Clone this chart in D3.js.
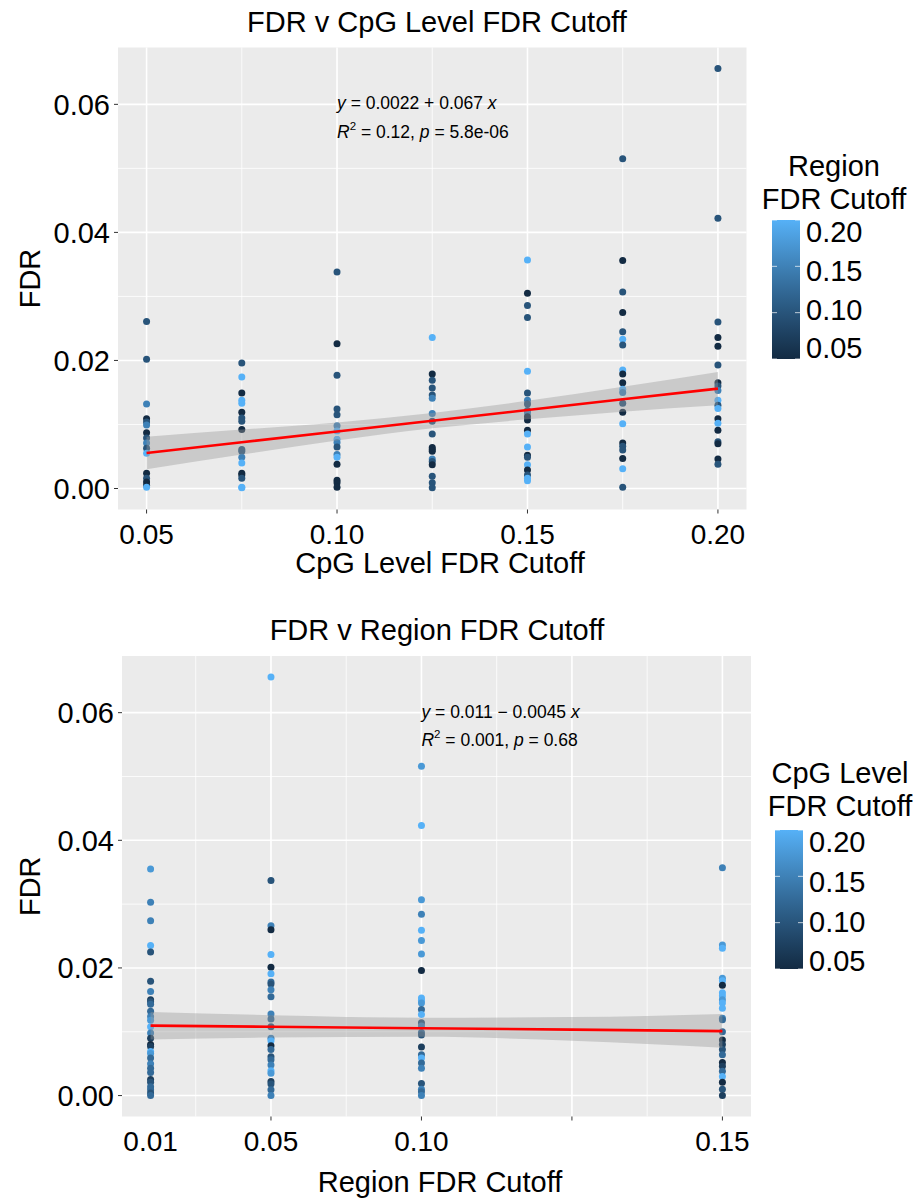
<!DOCTYPE html>
<html lang="en">
<head>
<meta charset="utf-8">
<title>FDR v cutoffs</title>
<style>
  body { margin: 0; background: #fff; }
  svg text { font-family: "Liberation Sans", Arial, sans-serif; fill: #000; }
</style>
</head>
<body>
<svg id="chart" width="920" height="1199"></svg>
<script src="https://d3js.org/d3.v7.min.js"></script>
<script>
// ---- data: [FDR, colour value] per x column ----
var cpgCutoffs = [0.05, 0.075, 0.10, 0.125, 0.15, 0.175, 0.20];
// top panel points, colour = region FDR cutoff
var top005 = [[0.0261,0.10],[0.0202,0.10],[0.0132,0.15],[0.0109,0.05],[0.0104,0.10],[0.0099,0.15],[0.0087,0.05],[0.0079,0.10],[0.0071,0.15],[0.0063,0.10],[0.0055,0.20],[0.0024,0.05],[0.0016,0.10],[0.0010,0.05],[0.0005,0.05],[0.0002,0.20]];
var top0075 = [[0.0196,0.10],[0.0174,0.20],[0.0149,0.05],[0.0138,0.20],[0.0133,0.20],[0.0119,0.05],[0.0110,0.10],[0.0105,0.10],[0.0092,0.05],[0.0061,0.10],[0.0058,0.10],[0.0049,0.15],[0.0040,0.20],[0.0024,0.05],[0.0021,0.05],[0.0016,0.10],[0.0002,0.20],[0.0001,0.20]];
var top010 = [[0.0338,0.10],[0.0226,0.05],[0.0177,0.10],[0.0124,0.10],[0.0115,0.10],[0.0098,0.15],[0.0090,0.20],[0.0077,0.20],[0.0072,0.15],[0.0065,0.10],[0.0053,0.15],[0.0049,0.20],[0.0038,0.05],[0.0013,0.05],[0.0009,0.05],[0.0002,0.05]];
var top0125 = [[0.0236,0.20],[0.0179,0.05],[0.0169,0.10],[0.0157,0.10],[0.0146,0.10],[0.0141,0.15],[0.0117,0.15],[0.0105,0.10],[0.0085,0.10],[0.0064,0.05],[0.0061,0.05],[0.0058,0.05],[0.0046,0.15],[0.0042,0.10],[0.0037,0.05],[0.0019,0.10],[0.0009,0.10],[0.0001,0.10]];
var top015 = [[0.0357,0.20],[0.0305,0.05],[0.0286,0.10],[0.0267,0.10],[0.0183,0.20],[0.0149,0.10],[0.0138,0.15],[0.0132,0.10],[0.0122,0.10],[0.0118,0.15],[0.0112,0.05],[0.0107,0.05],[0.0091,0.05],[0.0085,0.20],[0.0065,0.20],[0.0052,0.05],[0.0049,0.10],[0.0037,0.20],[0.0029,0.05],[0.0021,0.10],[0.0016,0.20],[0.0012,0.20]];
var top0175 = [[0.0515,0.10],[0.0356,0.05],[0.0307,0.10],[0.0275,0.05],[0.0245,0.10],[0.0233,0.20],[0.0224,0.10],[0.0185,0.20],[0.0179,0.05],[0.0165,0.05],[0.0155,0.20],[0.0150,0.15],[0.0133,0.10],[0.0119,0.05],[0.0101,0.20],[0.0071,0.05],[0.0066,0.10],[0.0060,0.10],[0.0047,0.05],[0.0031,0.20],[0.0002,0.10]];
var top020 = [[0.0656,0.10],[0.0422,0.10],[0.0260,0.10],[0.0236,0.05],[0.0222,0.05],[0.0193,0.10],[0.0165,0.05],[0.0160,0.10],[0.0153,0.15],[0.0138,0.20],[0.0130,0.10],[0.0125,0.20],[0.0109,0.05],[0.0102,0.20],[0.0091,0.05],[0.0073,0.10],[0.0070,0.05],[0.0046,0.05],[0.0038,0.10]];
var topColumns = [top005, top0075, top010, top0125, top015, top0175, top020];

// bottom panel points, colour = CpG level FDR cutoff
var regionCutoffs = [0.01, 0.05, 0.10, 0.20];
var bot001 = [[0.0355,0.175],[0.0303,0.15],[0.0274,0.15],[0.0235,0.20],[0.0225,0.10],[0.0179,0.10],[0.0163,0.15],[0.0150,0.075],[0.0147,0.10],[0.0143,0.125],[0.0132,0.125],[0.0124,0.15],[0.0118,0.175],[0.0108,0.20],[0.0098,0.15],[0.0090,0.075],[0.0080,0.05],[0.0077,0.075],[0.0069,0.20],[0.0066,0.175],[0.0059,0.125],[0.0050,0.15],[0.0043,0.125],[0.0036,0.125],[0.0025,0.075],[0.0021,0.10],[0.0014,0.125],[0.0009,0.125],[0.0004,0.10],[0.0000,0.125]];
var bot005 = [[0.0656,0.20],[0.0337,0.10],[0.0266,0.15],[0.0260,0.05],[0.0221,0.20],[0.0201,0.05],[0.0191,0.20],[0.0178,0.125],[0.0175,0.10],[0.0166,0.15],[0.0155,0.125],[0.0128,0.15],[0.0120,0.125],[0.0108,0.10],[0.0090,0.15],[0.0086,0.20],[0.0078,0.05],[0.0072,0.125],[0.0061,0.10],[0.0056,0.125],[0.0048,0.15],[0.0039,0.20],[0.0035,0.175],[0.0022,0.075],[0.0018,0.10],[0.0009,0.125],[0.0000,0.15]];
var bot010 = [[0.0516,0.175],[0.0423,0.20],[0.0307,0.175],[0.0284,0.15],[0.0259,0.20],[0.0243,0.175],[0.0222,0.175],[0.0196,0.05],[0.0153,0.20],[0.0149,0.20],[0.0145,0.175],[0.0135,0.125],[0.0127,0.20],[0.0114,0.10],[0.0109,0.15],[0.0099,0.125],[0.0095,0.10],[0.0076,0.075],[0.0064,0.125],[0.0059,0.20],[0.0051,0.125],[0.0043,0.15],[0.0019,0.10],[0.0010,0.15],[0.0006,0.125],[0.0000,0.15]];
var bot020 = [[0.0357,0.15],[0.0236,0.175],[0.0231,0.20],[0.0184,0.175],[0.0180,0.20],[0.0173,0.05],[0.0161,0.20],[0.0156,0.20],[0.0150,0.175],[0.0145,0.20],[0.0137,0.20],[0.0121,0.15],[0.0119,0.125],[0.0100,0.125],[0.0087,0.05],[0.0080,0.075],[0.0072,0.10],[0.0064,0.125],[0.0052,0.05],[0.0046,0.075],[0.0038,0.125],[0.0030,0.20],[0.0021,0.05],[0.0010,0.10],[0.0000,0.075]];
var botColumns = [bot001, bot005, bot010, bot020];

// fitted lines and confidence bands (x, fit, lower, upper)
var topFit = [[0.05,0.00555,0.0030,0.0081],[0.075,0.00723,0.0053,0.0092],[0.10,0.0089,0.0075,0.0103],[0.125,0.01058,0.0094,0.0118],[0.15,0.01225,0.0108,0.0137],[0.175,0.01393,0.0120,0.0159],[0.20,0.0156,0.0130,0.0182]];
var botFit = [[0.01,0.01096,0.0088,0.0131],[0.05,0.01078,0.0091,0.0126],[0.10,0.01055,0.0092,0.0122],[0.15,0.01033,0.0086,0.0123],[0.20,0.0101,0.0075,0.0128]];

// axis ticks
var yTicks = [0, 0.02, 0.04, 0.06];
var yMinor = [0.01, 0.03, 0.05];
var topXTicks = [0.05, 0.10, 0.15, 0.20];
var topXLabels = ["0.05", "0.10", "0.15", "0.20"];
var topXMinor = [0.075, 0.125, 0.175];
var botXTicks = [0.05, 0.10, 0.15, 0.20];
var botXMinor = [0.025, 0.075, 0.125, 0.175];
var botXLabelPos = [0.01, 0.05, 0.10, 0.20];
var botXLabels = ["0.01", "0.05", "0.10", "0.15"];
var legendTicks = [0.05, 0.10, 0.15, 0.20];

var svg = d3.select("#chart");
var colorScale = d3.scaleLinear().domain([0.05, 0.20])
    .range(["#132B43", "#56B1F7"]).interpolate(d3.interpolateLab);

function drawPanel(o) {
    var x = d3.scaleLinear().domain(o.xDomain).range([o.left, o.right]);
    var y = d3.scaleLinear().domain([-0.00328, 0.06888]).range([o.bottom, o.top]);
    var g = svg.append("g");

    g.append("rect").attr("x", o.left).attr("y", o.top)
        .attr("width", o.right - o.left).attr("height", o.bottom - o.top)
        .attr("fill", "#EBEBEB");

    // minor grid
    g.selectAll(".ymin").data(yMinor).enter().append("line")
        .attr("x1", o.left).attr("x2", o.right)
        .attr("y1", d => y(d)).attr("y2", d => y(d))
        .attr("stroke", "#fff").attr("stroke-width", 0.8);
    g.selectAll(".xmin").data(o.xMinor).enter().append("line")
        .attr("y1", o.top).attr("y2", o.bottom)
        .attr("x1", d => x(d)).attr("x2", d => x(d))
        .attr("stroke", "#fff").attr("stroke-width", 0.8);
    // major grid
    g.selectAll(".ymaj").data(yTicks).enter().append("line")
        .attr("x1", o.left).attr("x2", o.right)
        .attr("y1", d => y(d)).attr("y2", d => y(d))
        .attr("stroke", "#fff").attr("stroke-width", 1.6);
    g.selectAll(".xmaj").data(o.xTicks).enter().append("line")
        .attr("y1", o.top).attr("y2", o.bottom)
        .attr("x1", d => x(d)).attr("x2", d => x(d))
        .attr("stroke", "#fff").attr("stroke-width", 1.6);

    // points
    o.columns.forEach(function(col, i) {
        g.append("g").selectAll("circle").data(col).enter().append("circle")
            .attr("cx", x(o.xValues[i]))
            .attr("cy", d => y(d[0]))
            .attr("r", 3.5)
            .attr("fill", d => colorScale(d[1]));
    });

    // confidence band + fit
    g.append("path").datum(o.fit)
        .attr("d", d3.area().x(d => x(d[0])).y0(d => y(d[2])).y1(d => y(d[3])).curve(d3.curveMonotoneX))
        .attr("fill", "#999999").attr("fill-opacity", 0.4);
    g.append("path").datum(o.fit)
        .attr("d", d3.line().x(d => x(d[0])).y(d => y(d[1])))
        .attr("fill", "none").attr("stroke", "#FF0000").attr("stroke-width", 2.6);

    // axes ticks
    g.selectAll(".yt").data(yTicks).enter().append("line")
        .attr("x1", o.left - 4).attr("x2", o.left)
        .attr("y1", d => y(d)).attr("y2", d => y(d))
        .attr("stroke", "#333").attr("stroke-width", 1);
    g.selectAll(".ytl").data(yTicks).enter().append("text")
        .attr("x", o.left - 8).attr("y", d => y(d))
        .attr("dy", "0.36em").attr("text-anchor", "end")
        .attr("font-size", 29).text(d => d3.format(".2f")(d));
    g.selectAll(".xt").data(o.xTicks).enter().append("line")
        .attr("y1", o.bottom).attr("y2", o.bottom + 4)
        .attr("x1", d => x(d)).attr("x2", d => x(d))
        .attr("stroke", "#333").attr("stroke-width", 1);
    g.selectAll(".xtl").data(o.xLabelPos).enter().append("text")
        .attr("x", d => x(d)).attr("y", o.bottom + 34)
        .attr("text-anchor", "middle").attr("font-size", 28)
        .text((d, i) => o.xLabels[i]);

    // titles
    g.append("text").attr("x", 437).attr("y", o.top - 16)
        .attr("text-anchor", "middle").attr("font-size", 29).text(o.title);
    g.append("text").attr("x", 440).attr("y", o.bottom + o.xTitleDy)
        .attr("text-anchor", "middle").attr("font-size", 29).text(o.xTitle);
    g.append("text")
        .attr("transform", "translate(40," + ((o.top + o.bottom) / 2) + ") rotate(-90)")
        .attr("text-anchor", "middle").attr("font-size", 29).text("FDR");

    // regression label
    var lx = x(0.10), ly = y(0.06) + 5;
    var t1 = g.append("text").attr("x", lx).attr("y", ly).attr("font-size", 17.5);
    t1.append("tspan").attr("font-style", "italic").text("y");
    t1.append("tspan").text(" = " + o.eq[0] + " " + o.eq[1] + " " + o.eq[2] + " ");
    t1.append("tspan").attr("font-style", "italic").text("x");
    var t2 = g.append("text").attr("x", lx).attr("y", ly + 28.5).attr("font-size", 17.5);
    t2.append("tspan").attr("font-style", "italic").text("R");
    t2.append("tspan").attr("font-size", 11.5).attr("dy", -8).text("2");
    t2.append("tspan").attr("dy", 8).text(" = " + o.r2 + ", ");
    t2.append("tspan").attr("font-style", "italic").text("p");
    t2.append("tspan").text(" = " + o.p);

    // colour bar legend
    var L = o.legend;
    var ly2 = d3.scaleLinear().domain([0.05, 0.20]).range([L.barBottom, L.barTop]);
    var lbl = d3.scaleLinear().domain([0.05, 0.20]).range([L.lblBottom, L.lblTop]);
    var defs = svg.append("defs");
    var grad = defs.append("linearGradient").attr("id", L.id)
        .attr("x1", 0).attr("y1", 1).attr("x2", 0).attr("y2", 0);
    d3.range(0, 1.01, 0.1).forEach(function(t) {
        grad.append("stop").attr("offset", t)
            .attr("stop-color", colorScale(0.05 + 0.15 * t));
    });
    g.append("rect").attr("x", L.x).attr("y", L.barTop)
        .attr("width", 28).attr("height", L.barBottom - L.barTop)
        .attr("fill", "url(#" + L.id + ")");
    g.selectAll(".lt").data(legendTicks).enter().append("path")
        .attr("d", d => "M" + L.x + "," + ly2(d) + "h5M" + (L.x + 23) + "," + ly2(d) + "h5")
        .attr("stroke", "#fff").attr("stroke-opacity", 0.7).attr("stroke-width", 1);
    g.selectAll(".ltl").data(legendTicks).enter().append("text")
        .attr("x", L.x + 34).attr("y", d => lbl(d)).attr("dy", "0.36em")
        .attr("font-size", 29).text(d => d3.format(".2f")(d));
    L.title.forEach(function(s, i) {
        g.append("text").attr("x", L.titleX).attr("y", L.titleY + i * 33)
            .attr("text-anchor", "middle").attr("font-size", 29).text(s);
    });
}

drawPanel({
    left: 118, right: 746.5, top: 47.5, bottom: 509.5,
    xDomain: [0.0425, 0.2075],
    xTicks: topXTicks, xMinor: topXMinor, xLabelPos: topXTicks, xLabels: topXLabels,
    xValues: cpgCutoffs, columns: topColumns, fit: topFit,
    title: "FDR v CpG Level FDR Cutoff", xTitle: "CpG Level FDR Cutoff", xTitleDy: 63,
    eq: ["0.0022", "+", "0.067"], r2: "0.12", p: "5.8e-06",
    legend: { id: "gTop", x: 772, barTop: 220, barBottom: 359, lblTop: 232, lblBottom: 348,
              title: ["Region", "FDR Cutoff"], titleX: 834, titleY: 176 }
});

drawPanel({
    left: 122, right: 751, top: 656, bottom: 1116.5,
    xDomain: [0.0005, 0.2095],
    xTicks: botXTicks, xMinor: botXMinor, xLabelPos: botXLabelPos, xLabels: botXLabels,
    xValues: regionCutoffs, columns: botColumns, fit: botFit,
    title: "FDR v Region FDR Cutoff", xTitle: "Region FDR Cutoff", xTitleDy: 75,
    eq: ["0.011", "\u2212", "0.0045"], r2: "0.001", p: "0.68",
    legend: { id: "gBot", x: 775, barTop: 830, barBottom: 969, lblTop: 842, lblBottom: 961,
              title: ["CpG Level", "FDR Cutoff"], titleX: 840, titleY: 783 }
});
</script>
</body>
</html>
